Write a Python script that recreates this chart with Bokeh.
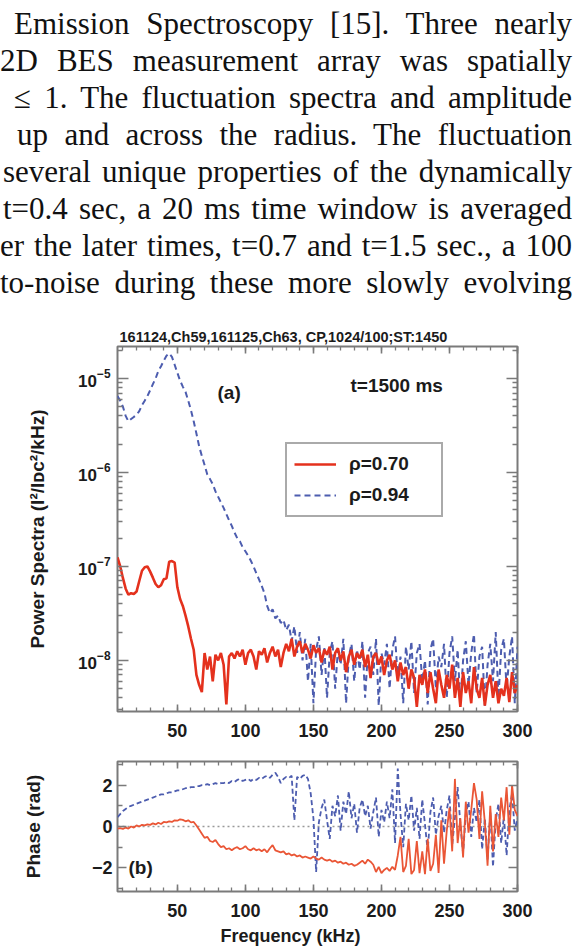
import math
from bokeh.plotting import figure
from bokeh.models import (Range1d, LinearAxis, LogAxis, FixedTicker, Label, Legend,
                          LegendItem, Span, ColumnDataSource, CustomJSTickFormatter,
                          LogTickFormatter, Div, Title)
from bokeh.layouts import column
from bokeh.embed import file_html
from bokeh.resources import INLINE
from bokeh.core.properties import value

# ---------------- data ----------------
freq_khz = list(range(6, 301, 2))

power_rho070 = [
    1.25e-7, 1.0e-7, 7.5e-8, 5.8e-8, 5.0e-8, 5.2e-8, 5.1e-8, 5.4e-8, 7.0e-8, 9.0e-8,
    9.8e-8, 1.0e-7, 8.8e-8, 7.6e-8, 6.5e-8, 6.0e-8, 6.3e-8, 7.3e-8, 7.5e-8, 1.12e-7,
    1.14e-7, 1.1e-7, 6.0e-8, 4.5e-8, 3.8e-8, 3.0e-8, 2.3e-8, 1.7e-8, 1.3e-8, 7.0e-9,
    5.5e-9, 4.6e-9, 1.2e-8, 8.0e-9, 1.1e-8, 6.0e-9, 1.15e-8, 1.0e-8, 1.2e-8, 9.0e-9,
    3.4e-9, 1.1e-8, 1.2e-8, 1.05e-8, 1.25e-8, 1.1e-8, 1.3e-8, 9.0e-9, 1.2e-8, 1.3e-8,
    1.1e-8, 8.0e-9, 1.25e-8, 1.15e-8, 1.35e-8, 9.5e-9, 1.2e-8, 1.4e-8, 1.1e-8, 1.3e-8,
    8.5e-9, 1.2e-8, 1.5e-8, 1.25e-8, 1.7e-8, 1.1e-8, 1.4e-8, 1.6e-8, 1.2e-8, 1.5e-8,
    1.3e-8, 1.05e-8, 1.45e-8, 1.2e-8, 1.35e-8, 9.5e-9, 1.3e-8, 1.15e-8, 1.4e-8, 8.0e-9,
    1.2e-8, 1.35e-8, 1.0e-8, 1.25e-8, 7.5e-9, 1.1e-8, 1.3e-8, 9.0e-9, 1.2e-8, 1.05e-8,
    1.3e-8, 8.5e-9, 1.15e-8, 6.5e-9, 1.1e-8, 1.2e-8, 9.0e-9, 1.1e-8, 7.0e-9, 1.0e-8,
    1.15e-8, 8.0e-9, 1.0e-8, 6.0e-9, 9.5e-9, 7.0e-9, 8.5e-9, 5.0e-9, 8.0e-9, 6.5e-9,
    3.2e-9, 7.0e-9, 5.5e-9, 8.0e-9, 4.5e-9, 7.5e-9, 5.0e-9, 3.5e-9, 8.0e-9, 5.5e-9,
    4.0e-9, 7.0e-9, 5.0e-9, 9.0e-9, 4.0e-9, 6.5e-9, 3.2e-9, 7.5e-9, 4.5e-9, 6.0e-9,
    3.5e-9, 8.5e-9, 5.0e-9, 4.0e-9, 6.5e-9, 3.3e-9, 5.5e-9, 7.0e-9, 4.0e-9, 6.0e-9,
    3.5e-9, 5.0e-9, 4.2e-9, 6.5e-9, 3.6e-9, 7.5e-9, 4.5e-9, 5.5e-9,
]

power_rho094 = [
    6.5e-6, 5.8e-6, 5.0e-6, 4.0e-6, 3.5e-6, 3.7e-6, 3.9e-6, 4.1e-6, 4.5e-6, 5.2e-6,
    5.8e-6, 6.5e-6, 7.5e-6, 8.7e-6, 1.0e-5, 1.2e-5, 1.35e-5, 1.55e-5, 1.75e-5, 1.85e-5,
    1.7e-5, 1.4e-5, 1.15e-5, 9.5e-6, 8.2e-6, 7.2e-6, 5.8e-6, 4.6e-6, 3.5e-6, 2.6e-6,
    1.9e-6, 1.5e-6, 1.2e-6, 9.5e-7, 8.5e-7, 7.5e-7, 6.3e-7, 5.5e-7, 4.8e-7, 4.2e-7,
    3.6e-7, 3.1e-7, 2.7e-7, 2.3e-7, 2.0e-7, 1.85e-7, 1.6e-7, 1.45e-7, 1.3e-7, 1.15e-7,
    1.0e-7, 8.5e-8, 7.3e-8, 6.2e-8, 5.2e-8, 3.8e-8, 3.2e-8, 3.5e-8, 2.8e-8, 3.0e-8,
    2.5e-8, 2.7e-8, 2.1e-8, 2.4e-8, 1.6e-8, 2.3e-8, 1.2e-8, 2.0e-8, 1.0e-8, 1.7e-8,
    6.0e-9, 1.5e-8, 3.5e-9, 1.3e-8, 1.8e-8, 7.0e-9, 1.4e-8, 4.0e-9, 1.2e-8, 1.6e-8,
    5.0e-9, 1.3e-8, 9.0e-9, 1.7e-8, 3.5e-9, 1.1e-8, 1.5e-8, 6.0e-9, 1.3e-8, 8.0e-9,
    1.6e-8, 4.0e-9, 1.2e-8, 1.4e-8, 7.0e-9, 1.7e-8, 3.3e-9, 1.2e-8, 9.0e-9, 1.5e-8,
    5.0e-9, 1.3e-8, 1.8e-8, 6.5e-9, 1.1e-8, 3.5e-9, 1.4e-8, 8.0e-9, 1.6e-8, 4.5e-9,
    1.2e-8, 1.5e-8, 6.0e-9, 1.0e-8, 3.4e-9, 1.3e-8, 1.7e-8, 5.0e-9, 1.1e-8, 8.5e-9,
    1.5e-8, 4.0e-9, 1.2e-8, 1.8e-8, 6.0e-9, 1.3e-8, 3.5e-9, 1.0e-8, 1.6e-8, 5.5e-9,
    1.2e-8, 1.9e-8, 4.5e-9, 1.1e-8, 1.4e-8, 3.3e-9, 9.0e-9, 1.5e-8, 6.0e-9, 2.0e-8,
    4.0e-9, 1.3e-8, 1.7e-8, 5.0e-9, 1.1e-8, 1.8e-8, 3.5e-9, 1.4e-8,
]

phase_rho070 = [
    -0.10, -0.08, -0.12, -0.05, -0.10, 0.00, -0.05, 0.05, 0.00, 0.08,
    0.05, 0.10, 0.08, 0.15, 0.10, 0.18, 0.12, 0.22, 0.20, 0.25,
    0.22, 0.30, 0.28, 0.35, 0.32, 0.25, 0.30, 0.20, 0.22, 0.05,
    -0.15, -0.35, -0.55, -0.50, -0.70, -0.75, -0.65, -0.85, -1.00, -0.95,
    -1.10, -1.05, -1.15, -1.05, -1.00, -1.10, -1.05, -0.95, -1.10, -1.15,
    -1.05, -1.15, -1.10, -1.20, -1.10, -1.25, -1.05, -0.90, -1.15, -1.20,
    -1.25, -1.20, -1.35, -1.30, -1.40, -1.35, -1.45, -1.40, -1.50, -1.45,
    -1.50, -1.55, -1.45, -1.55, -1.60, -1.50, -1.60, -1.65, -1.60, -1.70,
    -1.65, -1.75, -1.70, -1.80, -1.75, -1.85, -1.80, -1.90, -1.85, -1.75,
    -1.65, -1.80, -1.60, -1.70, -1.85, -2.20, -1.95, -2.25, -2.10, -2.00,
    -2.15, -1.95, -2.10, -1.40, -0.50, -2.20, -1.90, -0.60, -2.30, -2.10,
    -0.70, -2.25, -1.20, -2.30, -0.60, -2.15, -1.80, -0.40, -2.25, 0.30,
    -1.80, -0.20, 0.90, -1.20, 2.30, -0.80, 0.40, -1.50, 1.20, -0.30,
    0.80, 2.10, 1.30, -0.60, 1.70, 0.20, -1.90, 1.00, -1.20, 0.60,
    -0.50, 1.40, 0.30, 1.90, -0.40, 2.00, 0.80, 0.50,
]

phase_rho094 = [
    0.45, 0.60, 0.75, 0.85, 0.95, 1.00, 1.05, 1.10, 1.15, 1.20,
    1.25, 1.30, 1.35, 1.40, 1.45, 1.50, 1.55, 1.55, 1.60, 1.65,
    1.65, 1.70, 1.75, 1.75, 1.80, 1.85, 1.85, 1.90, 1.90, 1.95,
    1.95, 2.00, 2.00, 2.05, 2.00, 2.05, 2.10, 2.05, 2.10, 2.10,
    2.15, 2.10, 2.20, 2.15, 2.25, 2.30, 2.20, 2.25, 2.30, 2.20,
    2.30, 2.25, 2.35, 2.30, 2.40, 2.45, 2.35, 2.50, 2.60, 2.40,
    2.10, 2.30, 2.40, 2.35, 2.45, 0.30, 2.40, 2.30, 2.45, 2.50,
    2.30, 1.60, 0.40, -2.20, 0.20, 0.90, 1.30, 0.30, -0.60, 1.00,
    0.50, 1.50, -0.20, 1.20, 0.60, 1.70, 0.40, 1.10, -0.30, 0.90,
    1.30, 0.50, 1.00, -0.10, 0.70, 1.40, -0.50, 0.80, 0.20, 1.20,
    0.40, 1.80, -0.80, 2.80, 0.60, -1.00, 1.10, 0.30, 1.50, -0.20,
    0.90, -0.60, 1.30, 0.10, -1.20, 0.70, 1.40, -0.40, 0.50, 1.00,
    -0.30, 0.80, 1.50, -0.90, 0.40, 1.90, 0.10, -1.30, 0.60, 1.20,
    -0.50, 0.90, 0.20, 1.30, -1.10, 0.40, -1.60, 0.70, -1.95, 0.30,
    1.10, -0.80, 0.50, -1.40, 0.80, 1.60, -0.20, 0.40,
]

x_major_ticks = [50, 100, 150, 200, 250, 300]
power_decades = [1e-8, 1e-7, 1e-6, 1e-5]
phase_ticks = [-2, 0, 2]
phase_minor = [-3, -1, 1, 3]
legend_labels = ["\u03c1=0.70", "\u03c1=0.94"]
title_text = "161124,Ch59,161125,Ch63, CP,1024/100;ST:1450"
time_text = "t=1500 ms"
ylabel_a = "Power Spectra (I\u00b2/I\u1d05\u1d04\u00b2/kHz)"
ylabel_b = "Phase (rad)"
xlabel_b = "Frequency (kHz)"

# visible paragraph lines: (text, left edge px, baseline px)
paragraph = [
    ("Emission Spectroscopy [15]. Three nearly", 14, 34),
    ("2D BES measurement array was spatially", 0, 71),
    ("\u2264 1. The fluctuation spectra and amplitude", 14, 108),
    ("up and across the radius. The fluctuation", 17, 145),
    ("several unique properties of the dynamically", 3, 182),
    ("t=0.4 sec, a 20 ms time window is averaged", 3, 219),
    ("er the later times, t=0.7 and t=1.5 sec., a 100", 0, 256),
    ("to-noise during these more slowly evolving", 0, 293),
]

# ---------------- style ----------------
RED_A = "#e4311d"
RED_B = "#ea5636"
BLUE = "#4d5daf"
AXC = "#7a7a7a"
TXT = "#1b1b1b"
SANS = "Liberation Sans"
RIGHT = 572

# ---------------- paragraph (HTML, justified) ----------------
rows = []
for txt, left, base in paragraph:
    rows.append(
        f'<div style="position:absolute;left:{left}px;top:{base - 29}px;'
        f'width:{RIGHT - left}px;height:37px;line-height:37px;'
        f'text-align:justify;text-align-last:justify;">{txt}</div>')
html = ('<div style="position:relative;width:585px;height:320px;overflow:hidden;'
        'font-family:Liberation Serif, Times New Roman, serif;font-size:31px;'
        'color:#111;margin:0;padding:0;">' + "".join(rows) + '</div>')
para = Div(text=html, width=585, height=320, margin=0,
           styles={"overflow": "hidden", "padding": "0", "margin": "0"})


def style_axis(ax, major, minor, maj_len, min_len, labels=False, size=18, standoff=0):
    ax.ticker = FixedTicker(ticks=major, minor_ticks=minor)
    if not labels:
        ax.formatter = CustomJSTickFormatter(code="return ''")
        ax.major_label_text_font_size = "1px"
    else:
        ax.major_label_text_font = SANS
        ax.major_label_text_font_style = "bold"
        ax.major_label_text_font_size = f"{size}px"
        ax.major_label_text_color = TXT
    ax.major_label_standoff = standoff
    ax.major_tick_in = maj_len
    ax.major_tick_out = 0
    ax.minor_tick_in = min_len
    ax.minor_tick_out = 0
    ax.axis_line_color = None
    ax.major_tick_line_color = AXC
    ax.major_tick_line_width = 1.6
    ax.minor_tick_line_color = AXC
    ax.minor_tick_line_width = 1.3
    ax.axis_label_text_font = SANS
    ax.axis_label_text_font_style = "bold"
    ax.axis_label_text_font_size = "19px"
    ax.axis_label_text_color = TXT


def lab(fig, x, y, text, size, dx=0, dy=0, align="left", baseline="middle"):
    fig.add_layout(Label(x=x, y=y, x_offset=dx, y_offset=dy, text=text, text_font=SANS,
                         text_font_size=f"{size}px", text_font_style="bold",
                         text_align=align, text_baseline=baseline, text_color=TXT))


x_minor = [v for v in range(10, 301, 10)]

# ---------------- panel (a) ----------------
XR = (6, 300)
YA = (2.86e-9, 2.19e-5)
pa = figure(frame_width=400, frame_height=365, x_range=Range1d(*XR), y_range=Range1d(*YA),
            y_axis_type="log", min_border_left=117, min_border_right=68,
            min_border_top=26, min_border_bottom=32, toolbar_location=None,
            output_backend="svg", title=title_text)
pa.title.align = "left"
pa.title.offset = 2
pa.title.standoff = 4
pa.title.text_font = SANS
pa.title.text_font_style = "bold"
pa.title.text_font_size = "14.5px"
pa.title.text_color = TXT
pa.grid.visible = False
pa.outline_line_color = AXC
pa.outline_line_width = 2
left_a = pa.left[0]
bottom_a = pa.below[0]
right_a = LogAxis()
top_a = LinearAxis()
pa.add_layout(right_a, "right")
pa.add_layout(top_a, "above")
log_minor = [m * 10.0 ** k for k in range(-9, -4) for m in range(2, 10)]
style_axis(left_a, power_decades, log_minor, 11, 5, labels=True, size=17, standoff=7)
left_a.formatter = LogTickFormatter()
left_a.axis_label = ylabel_a
left_a.axis_label_standoff = 27
style_axis(right_a, power_decades, log_minor, 11, 5)
style_axis(bottom_a, x_major_ticks, x_minor, 7, 4, labels=True, size=18, standoff=12)
style_axis(top_a, x_major_ticks, x_minor, 7, 4)

src_a = ColumnDataSource(dict(f=freq_khz[:len(power_rho094)], p=power_rho094))
src_a2 = ColumnDataSource(dict(f=freq_khz[:len(power_rho070)], p=power_rho070))
rb = pa.line("f", "p", source=src_a, line_color=BLUE, line_width=2, line_dash="6 4")
rr = pa.line("f", "p", source=src_a2, line_color=RED_A, line_width=2.6)

leg = Legend(items=[LegendItem(label=value(legend_labels[0]), renderers=[rr]),
                    LegendItem(label=value(legend_labels[1]), renderers=[rb])],
             location=(168, 194), margin=0, padding=7, spacing=5,
             glyph_width=42, glyph_height=20, label_standoff=13,
             label_width=85, label_height=26,
             label_text_font=SANS, label_text_font_style="bold",
             label_text_font_size="19px", label_text_color=TXT,
             border_line_color="#555555", border_line_width=2,
             background_fill_color="white", background_fill_alpha=1.0)
pa.add_layout(leg)

lab(pa, XR[0], YA[1], "(a)", 19, dx=100, dy=-46)
lab(pa, XR[0], YA[1], time_text, 19, dx=233, dy=-39)

# ---------------- panel (b) ----------------
YB = (-3.1416, 3.1416)
pb = figure(frame_width=400, frame_height=130, x_range=Range1d(*XR), y_range=Range1d(*YB),
            min_border_left=117, min_border_right=68, min_border_top=18,
            min_border_bottom=61, toolbar_location=None, output_backend="svg")
pb.grid.visible = False
pb.outline_line_color = AXC
pb.outline_line_width = 2
left_b = pb.left[0]
bottom_b = pb.below[0]
right_b = LinearAxis()
top_b = LinearAxis()
pb.add_layout(right_b, "right")
pb.add_layout(top_b, "above")
style_axis(left_b, phase_ticks, phase_minor, 9, 5, labels=True, size=18, standoff=5)
left_b.axis_label = ylabel_b
left_b.axis_label_standoff = 45
style_axis(right_b, phase_ticks, phase_minor, 9, 5)
style_axis(bottom_b, x_major_ticks, x_minor, 7, 4, labels=True, size=18, standoff=12)
style_axis(top_b, x_major_ticks, x_minor, 7, 4)
pb.add_layout(Title(text=xlabel_b, align="left", offset=103, standoff=8,
                    vertical_align="bottom", text_font=SANS, text_font_style="bold",
                    text_font_size="18px", text_color=TXT), "below")

pb.add_layout(Span(location=0, dimension="width", line_color="#999999",
                   line_dash="2 3", line_width=1.5, level="underlay"))
src_b = ColumnDataSource(dict(f=freq_khz[:len(phase_rho094)], p=phase_rho094))
src_b2 = ColumnDataSource(dict(f=freq_khz[:len(phase_rho070)], p=phase_rho070))
pb.line("f", "p", source=src_b, line_color=BLUE, line_width=1.8, line_dash="5 3")
pb.line("f", "p", source=src_b2, line_color=RED_B, line_width=1.8)

lab(pb, XR[0], -2, "(b)", 19, dx=11)

layout = column(para, pa, pb, spacing=0)
open("out.html", "w").write(file_html(layout, INLINE))
